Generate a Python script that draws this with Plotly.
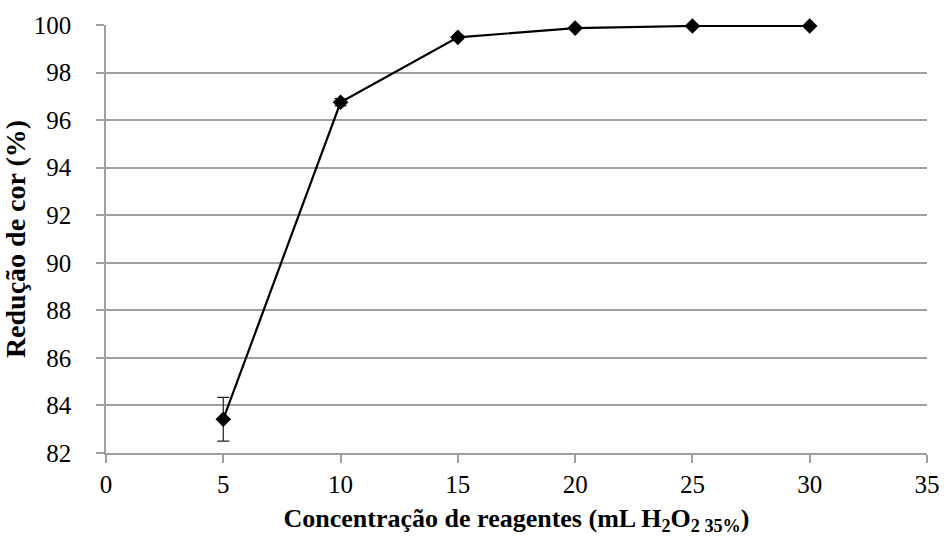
import plotly.graph_objects as go

x_vals = [5, 10, 15, 20, 25, 30]
y_vals = [83.42, 96.75, 99.48, 99.87, 99.96, 99.96]
y_err = [0.92, 0.15, 0.05, 0.03, 0.02, 0.02]
y_ticks = [82, 84, 86, 88, 90, 92, 94, 96, 98, 100]
x_ticks = [0, 5, 10, 15, 20, 25, 30, 35]

fig = go.Figure()
fig.add_trace(go.Scatter(
    x=x_vals, y=y_vals, mode="lines+markers",
    line=dict(color="black", width=2.2),
    marker=dict(symbol="diamond", size=12, color="black"),
    error_y=dict(type="data", array=y_err, visible=True, color="#222", thickness=1.2, width=6),
    cliponaxis=False,
    showlegend=False,
))

font_family = "Times New Roman, Liberation Serif, DejaVu Serif, serif"
fig.update_layout(
    width=952, height=541,
    margin=dict(l=106, r=17, t=24, b=88),
    plot_bgcolor="white", paper_bgcolor="white",
    font=dict(family=font_family, size=25, color="black"),
    xaxis=dict(
        range=[0, 35], tickvals=x_ticks, showgrid=False, zeroline=False,
        showline=True, linecolor="#a0a0a0", linewidth=1.5,
        ticks="outside", ticklen=8, tickcolor="#a0a0a0", tickwidth=1.5,
        ticklabelstandoff=0,
        tickfont=dict(size=25, family=font_family, color="black"),
        title=dict(text="<b>Concentração de reagentes (mL H<sub>2</sub>O<sub>2 35%</sub>)</b>",
                   font=dict(size=26, family=font_family, color="black"), standoff=12),
    ),
    yaxis=dict(
        range=[82, 100], tickvals=y_ticks, showgrid=True, gridcolor="#a0a0a0", gridwidth=1.5,
        zeroline=False, showline=True, linecolor="#a0a0a0", linewidth=1.5,
        ticks="outside", ticklen=8, tickcolor="#a0a0a0", tickwidth=1.5,
        ticklabelstandoff=20,
        tickfont=dict(size=25, family=font_family, color="black"),
        title=dict(text="<b>Redução de cor (%)</b>", font=dict(size=28, family=font_family, color="black"), standoff=2),
    ),
)
fig.write_html("out.html")
